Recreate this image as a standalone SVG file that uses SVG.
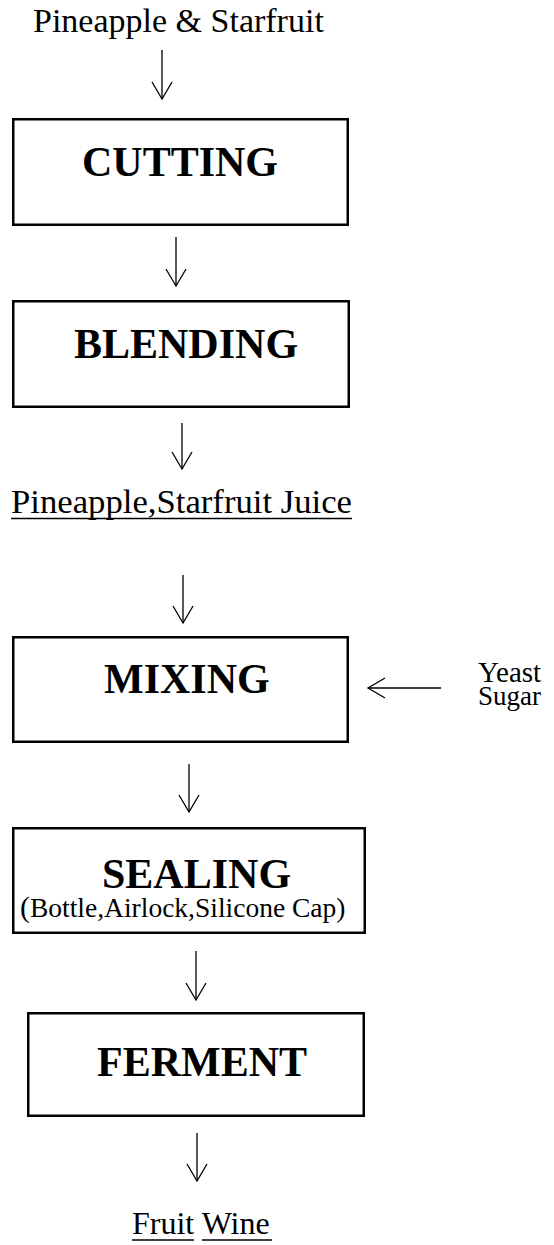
<svg xmlns="http://www.w3.org/2000/svg" width="554" height="1245" viewBox="0 0 554 1245">
<style>
.box{fill:#fff;stroke:#000;stroke-width:2.5}
.title{font-family:"Liberation Serif","Times New Roman",serif;font-weight:bold;font-size:42px;fill:#000}
.lbl{font-family:"Liberation Serif","Times New Roman",serif;fill:#000}
.conn line{stroke:#000;stroke-width:1.3;fill:none}
.ul{stroke:#000;stroke-width:1.7}
</style>
<defs>
<marker id="ah" markerUnits="userSpaceOnUse" markerWidth="22" markerHeight="24" viewBox="-19 -12 22 24" refX="0" refY="0" orient="auto">
<path d="M-17,-10 L0,0 L-17,10" fill="none" stroke="#000" stroke-width="1.3"/>
</marker>
</defs>
<rect width="554" height="1245" fill="#fff"/>
<g id="input">
<text class="lbl" x="33" y="32" font-size="34">Pineapple &amp; Starfruit</text>
</g>
<g id="cutting">
<rect class="box" x="13.25" y="119.25" width="334.5" height="105.5"/>
<text class="title" x="82" y="176">CUTTING</text>
</g>
<g id="blending">
<rect class="box" x="13.25" y="301.25" width="335.5" height="105.5"/>
<text class="title" x="74" y="358">BLENDING</text>
</g>
<g id="juice">
<text class="lbl" x="11" y="513" font-size="34.7">Pineapple,Starfruit Juice</text>
<line class="ul" x1="11" y1="518.5" x2="352" y2="518.5"/>
</g>
<g id="mixing">
<rect class="box" x="13.25" y="637.25" width="334.5" height="104.5"/>
<text class="title" x="104" y="693">MIXING</text>
</g>
<g id="additives">
<text class="lbl" x="478" y="682" font-size="29">Yeast</text>
<text class="lbl" x="478" y="705" font-size="27">Sugar</text>
</g>
<g id="sealing">
<rect class="box" x="13.25" y="828.25" width="351.5" height="104.5"/>
<text class="title" x="102" y="888">SEALING</text>
<text class="lbl" x="20" y="917" font-size="27.5"><tspan font-size="30">(</tspan>Bottle,Airlock,Silicone Cap)</text>
</g>
<g id="ferment">
<rect class="box" x="28.25" y="1013.25" width="335.5" height="102.5"/>
<text class="title" x="97" y="1076">FERMENT</text>
</g>
<g id="output">
<text class="lbl" x="132" y="1234" font-size="32">Fruit Wine</text>
<line class="ul" x1="132" y1="1240" x2="194" y2="1240"/>
<line class="ul" x1="202" y1="1240" x2="272" y2="1240"/>
</g>
<g id="connectors" class="conn">
<line x1="162" y1="50" x2="162" y2="99" marker-end="url(#ah)"/>
<line x1="176" y1="237" x2="176" y2="286" marker-end="url(#ah)"/>
<line x1="182" y1="423" x2="182" y2="469" marker-end="url(#ah)"/>
<line x1="183" y1="575" x2="183" y2="623" marker-end="url(#ah)"/>
<line x1="441" y1="688" x2="368" y2="688" marker-end="url(#ah)"/>
<line x1="189" y1="764" x2="189" y2="812" marker-end="url(#ah)"/>
<line x1="196" y1="951" x2="196" y2="1000" marker-end="url(#ah)"/>
<line x1="197" y1="1133" x2="197" y2="1181" marker-end="url(#ah)"/>
</g>
</svg>
